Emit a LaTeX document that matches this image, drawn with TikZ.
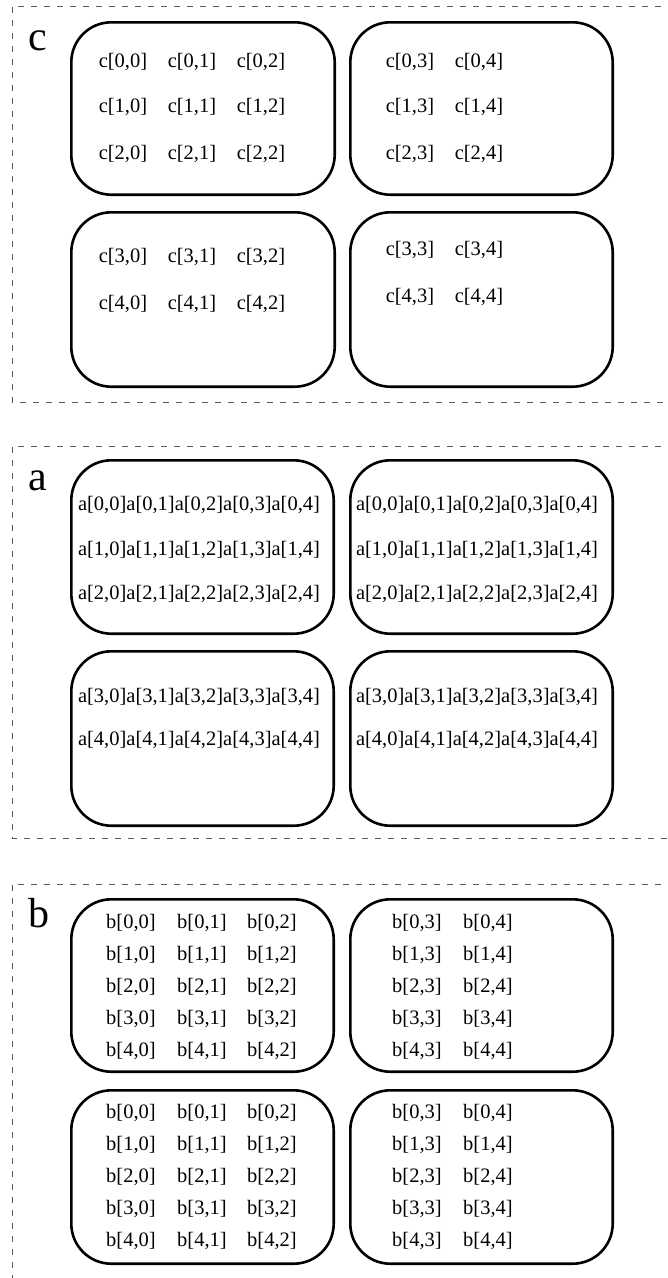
\documentclass[tikz,border=0pt]{standalone}
\usepackage{fontspec}
\setmainfont{Liberation Serif}
\begin{document}
\begin{tikzpicture}[x=1pt,y=-1pt,
  frame/.style={draw=black!65, line width=1pt, dash pattern=on 6pt off 7pt},
  tile/.style={draw=black, line width=2.6pt, rounded corners=40pt},
  cell/.style={inner sep=0pt, font=\fontsize{20.5}{24}\selectfont},
  biglabel/.style={inner sep=0pt, anchor=base west, font=\fontsize{42}{48}\selectfont}]
\useasboundingbox (0,0) rectangle (668,1278);
\clip (0,0) rectangle (668,1278);
% frames
\draw[frame] (700,6) -- (12,6) -- (12,402) -- (700,402);
\draw[frame] (700,446) -- (12,446) -- (12,838) -- (700,838);
\draw[frame] (700,884) -- (12,884) -- (12,1300);
% labels
\node[biglabel] (lc) at (28,50) {c};
\node[biglabel] (la) at (28,490) {a};
\node[biglabel] (lb) at (28,927) {b};
% tiles c
\draw[tile] (71.3,22.3) rectangle (334.7,194.7);
\draw[tile] (350.3,22.3) rectangle (612.7,194.7);
\draw[tile] (71.3,212.3) rectangle (334.7,386.7);
\draw[tile] (350.3,212.3) rectangle (612.7,386.7);
% tiles a
\draw[tile] (71.3,460.3) rectangle (333.7,633.7);
\draw[tile] (350.3,460.3) rectangle (612.7,633.7);
\draw[tile] (71.3,651.3) rectangle (333.7,825.7);
\draw[tile] (350.3,651.3) rectangle (612.7,825.7);
% tiles b
\draw[tile] (71.3,899.3) rectangle (333.7,1071.7);
\draw[tile] (350.3,899.3) rectangle (612.7,1071.7);
\draw[tile] (71.3,1090.3) rectangle (333.7,1263.7);
\draw[tile] (350.3,1090.3) rectangle (612.7,1263.7);
% c cells
\foreach \r/\y in {0/62,1/107,2/154}{
  \foreach \c/\x in {0/123,1/192,2/261}{\node[cell] (c\r\c) at (\x,\y) {c[\r,\c]};}
  \foreach \c/\x in {3/410,4/479}{\node[cell] (c\r\c) at (\x,\y) {c[\r,\c]};}
}
\foreach \r/\y/\yy in {3/257/250,4/304/297}{
  \foreach \c/\x in {0/123,1/192,2/261}{\node[cell] (c\r\c) at (\x,\y) {c[\r,\c]};}
  \foreach \c/\x in {3/410,4/479}{\node[cell] (c\r\c) at (\x,\yy) {c[\r,\c]};}
}
% a cells
\foreach \r/\y in {0/505,1/550,2/594,3/697,4/740}{
  \node[cell] (aL\r) at (199,\y) {a[\r,0]a[\r,1]a[\r,2]a[\r,3]a[\r,4]};
  \node[cell] (aR\r) at (477,\y) {a[\r,0]a[\r,1]a[\r,2]a[\r,3]a[\r,4]};
}
% b cells
\foreach \r in {0,...,4}{
  \foreach \c/\x in {0/131,1/202,2/272}{
    \node[cell] (bT\r\c) at (\x,923+32*\r) {b[\r,\c]};
    \node[cell] (bB\r\c) at (\x,1113+32*\r) {b[\r,\c]};
  }
  \foreach \c/\x in {3/417,4/488}{
    \node[cell] (bT\r\c) at (\x,923+32*\r) {b[\r,\c]};
    \node[cell] (bB\r\c) at (\x,1113+32*\r) {b[\r,\c]};
  }
}
\end{tikzpicture}
\end{document}
